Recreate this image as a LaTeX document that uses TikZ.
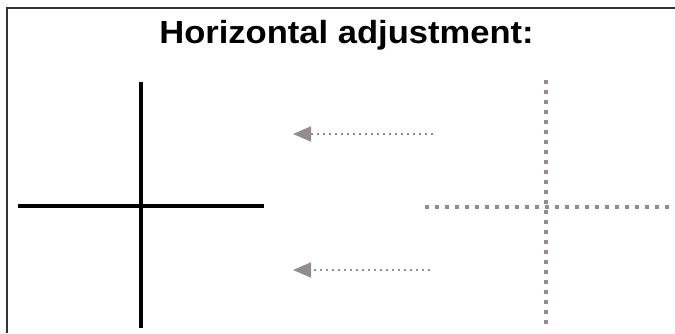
\documentclass[tikz,border=0pt]{standalone}
\usepackage{fontspec}
\setmainfont{Liberation Sans}
\usetikzlibrary{arrows.meta}
\definecolor{dotgray}{RGB}{150,140,140}
\tikzset{
  frameline/.style={line width=2pt, draw=black!80},
  solidline/.style={line width=3.5pt, draw=black},
  dotline/.style={draw=dotgray, line width=3.5pt, dash pattern=on 3.5pt off 6.5pt},
  arrowline/.style={draw=dotgray, line width=2pt, dash pattern=on 2pt off 4pt,
    -{Triangle[length=18pt,width=15pt,fill=dotgray]}},
  titletext/.style={font=\bfseries\fontsize{32}{36}\selectfont, inner sep=0pt, xscale=1.08}
}
\begin{document}
\begin{tikzpicture}[x=1pt,y=-1pt]
\useasboundingbox (0,0) rectangle (675,333);
% frame
\coordinate (fb) at (7,333);
\coordinate (fc) at (7,8);
\coordinate (fr) at (675,8);
\draw[frameline] (fb) -- (fc) -- (fr);
% title
\node[titletext, anchor=base] (title) at (346.5,43) {Horizontal adjustment:};
% solid cross
\coordinate (sv1) at (141,82);
\coordinate (sv2) at (141,328);
\coordinate (sh1) at (18,206);
\coordinate (sh2) at (264,206);
\draw[solidline] (sv1) -- (sv2);
\draw[solidline] (sh1) -- (sh2);
% dotted cross
\coordinate (dv1) at (546,80);
\coordinate (dv2) at (546,324);
\coordinate (dh1) at (425,207);
\coordinate (dh2) at (669,207);
\draw[dotline] (dv1) -- (dv2);
\draw[dotline] (dh1) -- (dh2);
% arrows
\coordinate (a1s) at (433,134);
\coordinate (a1e) at (293,134);
\coordinate (a2s) at (430,270);
\coordinate (a2e) at (293,270);
\draw[arrowline] (a1s) -- (a1e);
\draw[arrowline] (a2s) -- (a2e);
\end{tikzpicture}
\end{document}
